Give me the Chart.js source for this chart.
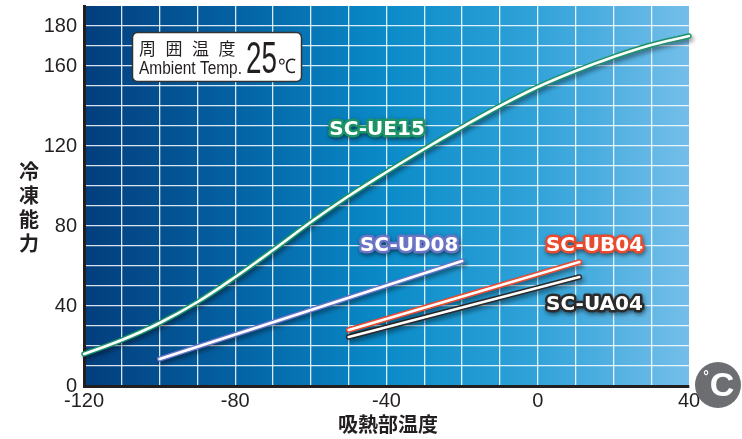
<!DOCTYPE html>
<html>
<head>
<meta charset="utf-8">
<script src="https://cdn.jsdelivr.net/npm/chart.js@4.4.1/dist/chart.umd.min.js"></script>
<style>
  html, body { margin: 0; padding: 0; background: #fff; }
  #wrap { width: 742px; height: 439px; position: relative; }
</style>
</head>
<body>
<div id="wrap"><canvas id="chart" width="742" height="439"></canvas></div>
<script>
// --------------------------- Données ---------------------------
const seriesNames = ['SC-UE15', 'SC-UD08', 'SC-UB04', 'SC-UA04'];

const ue15X = [-120, -110, -100, -90, -80, -70, -60, -50, -40, -30, -20, -10, 0, 10, 20, 30, 40];
const ue15Y = [16, 23, 31.5, 42, 54.5, 68, 82, 95, 107, 118.5, 129.5, 140, 149.5, 157.5, 164.5, 170.5, 175];

const ud08X = [-100, -20];
const ud08Y = [13.5, 62.5];

const ub04X = [-50, 11];
const ub04Y = [28, 62];

const ua04X = [-50, 11];
const ua04Y = [24.5, 54.5];

const xTickLabels = [-120, -80, -40, 0, 40];
const yTickLabels = [0, 40, 80, 120, 160, 180];

const xTitle = '吸熱部温度';
const yTitle = '冷凍能力';
const ambientJa = '周囲温度';
const ambientEn = 'Ambient Temp.';
const ambientValue = '25';

// couleurs des courbes (bord)
const lineColors = ['#1c9466', '#6b74c6', '#ea4a2e', '#2b2b2b'];

// ---------------------------- Construction des séries ------------------------------------
function toPoints(xs, ys) {
    return xs.map((x, i) => ({ x: x, y: ys[i] }));
}

const seriesPoints = [toPoints(ue15X, ue15Y), toPoints(ud08X, ud08Y), toPoints(ub04X, ub04Y), toPoints(ua04X, ua04Y)];

const datasets = [];
seriesPoints.forEach((pts, i) => {
    // bord coloré avec ombre (dessiné en dessous)
    datasets.push({
        label: seriesNames[i],
        data: pts,
        borderColor: lineColors[i],
        borderWidth: 5.5,
        tension: 0.4,
        pointRadius: 0,
        borderCapStyle: 'round',
        clip: false,
        order: 10 + i,
        shadow: true
    });
    // coeur blanc (dessiné au-dessus)
    datasets.push({
        label: seriesNames[i] + ' core',
        data: pts,
        borderColor: '#ffffff',
        borderWidth: 2.6,
        tension: 0.4,
        pointRadius: 0,
        borderCapStyle: 'round',
        clip: false,
        order: i
    });
});

// ---------------------------- Plugins de dessin ------------------------------------
const backgroundPlugin = {
    id: 'plotBackground',
    beforeDraw(chart) {
        const { ctx, chartArea: a } = chart;
        const g = ctx.createLinearGradient(a.left, 0, a.right, 0);
        g.addColorStop(0, '#033d7c');
        g.addColorStop(0.25, '#0462a3');
        g.addColorStop(0.5, '#0a8bc8');
        g.addColorStop(0.75, '#31a3d9');
        g.addColorStop(1, '#74bee9');
        ctx.save();
        ctx.fillStyle = g;
        ctx.fillRect(a.left, a.top, a.right - a.left, a.bottom - a.top);
        ctx.restore();
    }
};

const shadowPlugin = {
    id: 'lineShadow',
    beforeDatasetDraw(chart, args) {
        const ds = chart.data.datasets[args.index];
        chart.ctx.save();
        if (ds.shadow) {
            chart.ctx.shadowColor = 'rgba(0, 0, 0, 0.4)';
            chart.ctx.shadowBlur = 4;
            chart.ctx.shadowOffsetX = 2;
            chart.ctx.shadowOffsetY = 3;
        }
    },
    afterDatasetDraw(chart) {
        chart.ctx.restore();
    }
};

// emplacement des noms de séries (coordonnées du graphique)
const seriesLabelAnchors = [[-42.5, 128], [-34, 70], [15, 70], [15, 40.5]];

function outlinedText(ctx, text, x, y, color) {
    ctx.save();
    ctx.font = 'bold 20px "DejaVu Sans"';
    ctx.textAlign = 'center';
    ctx.textBaseline = 'middle';
    ctx.lineJoin = 'round';
    ctx.shadowColor = 'rgba(0, 0, 0, 0.5)';
    ctx.shadowBlur = 4;
    ctx.shadowOffsetX = 1;
    ctx.shadowOffsetY = 2;
    ctx.strokeStyle = color;
    ctx.lineWidth = 5;
    ctx.strokeText(text, x, y);
    ctx.shadowColor = 'transparent';
    ctx.fillStyle = '#ffffff';
    ctx.fillText(text, x, y);
    ctx.restore();
}

// texte ajusté à une largeur donnée
function fitText(ctx, text, x, y, width) {
    const w = ctx.measureText(text).width;
    ctx.save();
    ctx.translate(x, y);
    ctx.scale(width / w, 1);
    ctx.fillText(text, 0, 0);
    ctx.restore();
}

const annotationPlugin = {
    id: 'annotations',
    afterDraw(chart) {
        const { ctx, scales } = chart;
        const xs = scales.x, ys = scales.y;

        seriesNames.forEach((name, i) => {
            const [lx, ly] = seriesLabelAnchors[i];
            outlinedText(ctx, name, xs.getPixelForValue(lx), ys.getPixelForValue(ly), lineColors[i]);
        });

        // encadré température ambiante
        ctx.save();
        ctx.beginPath();
        ctx.roundRect(132.5, 32.5, 169, 49, 5);
        ctx.fillStyle = '#ffffff';
        ctx.fill();
        ctx.strokeStyle = '#333';
        ctx.lineWidth = 1.5;
        ctx.stroke();
        ctx.fillStyle = '#231f20';
        ctx.textBaseline = 'alphabetic';
        ctx.textAlign = 'left';
        ctx.font = '17px "Noto Sans CJK JP"';
        Array.from(ambientJa).forEach((ch, i) => {
            ctx.fillText(ch, 139 + i * 26.5, 55);
        });
        ctx.font = '18px "Liberation Sans"';
        fitText(ctx, ambientEn, 139, 74, 103);
        ctx.font = '45px "Liberation Sans"';
        fitText(ctx, ambientValue, 246, 73, 31);
        ctx.font = '20px "Liberation Sans"';
        fitText(ctx, '℃', 278, 73, 18);
        ctx.restore();

        // titre de l'axe Y, vertical
        ctx.save();
        ctx.fillStyle = '#231f20';
        ctx.font = 'bold 20px "Noto Sans CJK JP"';
        ctx.textAlign = 'center';
        ctx.textBaseline = 'middle';
        Array.from(yTitle).forEach((ch, i) => {
            ctx.fillText(ch, 29, 171 + i * 24);
        });
        // titre de l'axe X
        ctx.fillText(xTitle, 388, 424);

        // pastille °C
        ctx.beginPath();
        ctx.arc(718, 385, 23, 0, Math.PI * 2);
        ctx.fillStyle = '#6d6e71';
        ctx.fill();
        ctx.fillStyle = '#ffffff';
        ctx.font = 'bold 34px "Liberation Sans"';
        ctx.fillText('C', 722, 387);
        ctx.font = 'bold 14px "Liberation Sans"';
        ctx.fillText('°', 706, 377);
        ctx.restore();
    }
};

// ---------------------------- Graphique ------------------------------------
const tickFont = { family: '"Liberation Sans"', size: 20 };

new Chart(document.getElementById('chart'), {
    type: 'line',
    data: { datasets: datasets },
    options: {
        responsive: false,
        animation: false,
        layout: { padding: { left: 0, right: 53, top: 6, bottom: 0 } },
        plugins: {
            legend: { display: false },
            tooltip: { enabled: false }
        },
        scales: {
            x: {
                type: 'linear',
                min: -120,
                max: 40,
                afterFit(scale) {
                    scale.height = 53;
                    scale.paddingLeft = 0;
                    scale.paddingRight = 0;
                },
                ticks: {
                    stepSize: 10,
                    autoSkip: false,
                    maxRotation: 0,
                    padding: 3,
                    color: '#231f20',
                    font: tickFont,
                    callback: v => xTickLabels.includes(v) ? String(v) : ''
                },
                grid: {
                    drawTicks: false,
                    lineWidth: 1.3,
                    color: c => (c.tick && (c.tick.value === 40 || c.tick.value === -120)) ? 'rgba(0,0,0,0)' : 'rgba(255,255,255,0.85)'
                },
                border: { display: true, color: '#231f20', width: 3 }
            },
            y: {
                type: 'linear',
                min: 0,
                max: 190,
                afterFit(scale) {
                    scale.width = 84;
                    scale.paddingTop = 0;
                    scale.paddingBottom = 0;
                },
                ticks: {
                    stepSize: 10,
                    autoSkip: false,
                    padding: 7,
                    color: '#231f20',
                    font: tickFont,
                    callback: v => yTickLabels.includes(v) ? String(v) : ''
                },
                grid: {
                    drawTicks: false,
                    lineWidth: 1.3,
                    color: c => (c.tick && (c.tick.value === 190 || c.tick.value === 0)) ? 'rgba(0,0,0,0)' : 'rgba(255,255,255,0.85)'
                },
                border: { display: true, color: '#231f20', width: 3 }
            }
        }
    },
    plugins: [backgroundPlugin, shadowPlugin, annotationPlugin]
});
</script>
</body>
</html>
